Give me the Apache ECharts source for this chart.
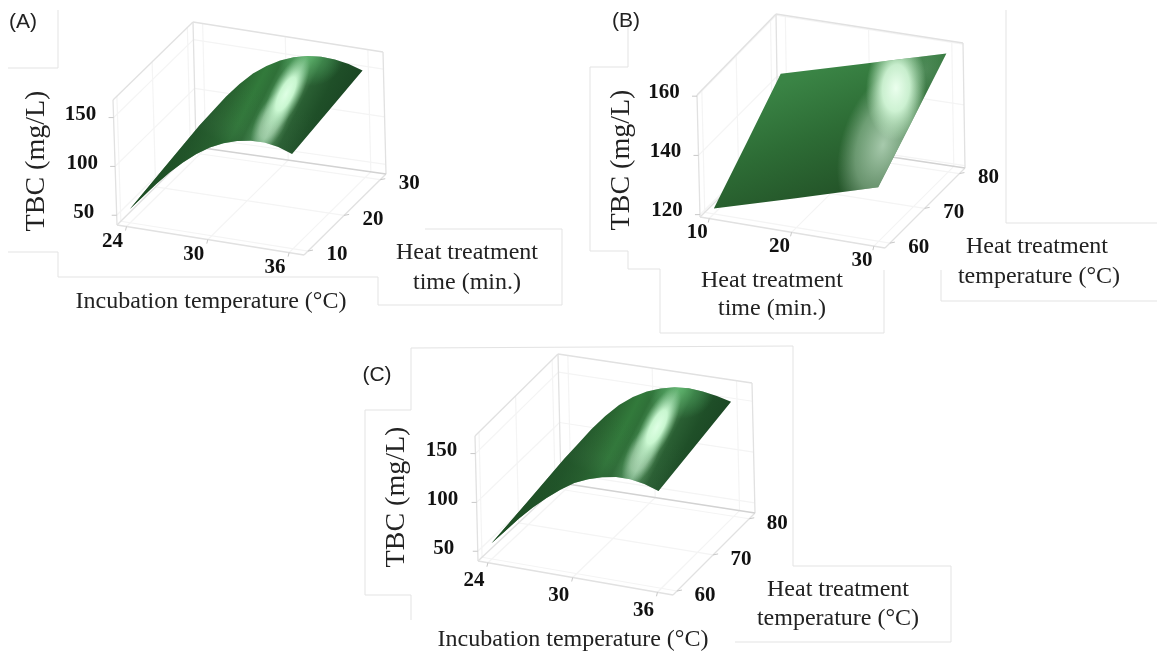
<!DOCTYPE html>
<html><head><meta charset="utf-8">
<style>html,body{margin:0;padding:0;background:#fff}#c{width:1157px;height:657px}</style>
<script src="https://cdn.jsdelivr.net/npm/echarts@6/dist/echarts.min.js"></script>
</head><body><div id="c"></div>
<script>
// ---- data ----
const incubationTemps = [24,25,26,27,28,29,30,31,32,33,34,35,36];
const heatTimes = [10,20,30];
const heatTemps = [60,70,80];
const tbcA_t10 = [54,69,84,98,110.5,121.5,130.5,137,141.5,144,144.5,142,137];
const tbcA_t20 = [61.5,77.5,93.5,108,121,131,140,146,150,152,152,149,144.5];
const tbcA_t30 = [69,86,103,118,131,141,149,154.5,158,159.5,159,156.5,152];
const tbcC_h60 = [56,71,86,99.5,111.5,122,131,137,141,143.5,143.5,141,136];
const tbcC_h70 = [63.5,79.5,95.5,110,122,132.5,141,146,150,152,151,149,144.5];
const tbcC_h80 = [71,88,105,120,133,143,150.5,155.5,159,160,159,156.5,153];
const tbcB_h60 = [121,129,137.2];
const tbcB_h70 = [132,140,147.7];
const tbcB_h80 = [143.1,150.6,158.2];
const ticksIncubation = [24,30,36];
const ticksTime = [10,20,30];
const ticksHeatTemp = [60,70,80];
const ticksTbcAC = [50,100,150];
const ticksTbcB = [120,140,160];

// ---- panel geometry (style/layout) ----
const panels = [
 {floor:[[117,225],[304,255],[386,174],[196,147]], top:[[113,100],[303,130],[383,52],[193,22]],
  xr:[23.3,37.1], yr:[8.9,31.6], zr:[40,168], xt:ticksIncubation, yt:ticksTime, zt:ticksTbcAC,
  xo:[-14,15], yo:[29,4], zo:[-33,-3],
  xs:incubationTemps, ys:heatTimes, rows:[tbcA_t10,tbcA_t20,tbcA_t30]},
 {floor:[[700,217],[885,248],[965,168],[778,140]], top:[[697,95],[884,124],[963,43],[776,14]],
  xr:[8.88,31.35], yr:[58.6,81.6], zr:[119.2,160.4], xt:ticksTime, yt:ticksHeatTemp, zt:ticksTbcB,
  xo:[-12,14], yo:[29,4], zo:[-33,-4],
  xs:heatTimes, ys:heatTemps, rows:[tbcB_h60,tbcB_h70,tbcB_h80]},
 {floor:[[478,561],[673,595],[755,513],[561,483]], top:[[475,436],[669,465],[752,383],[558,354]],
  xr:[23.3,37.1], yr:[58.9,81.6], zr:[40,168], xt:ticksIncubation, yt:ticksHeatTemp, zt:ticksTbcAC,
  xo:[-14,18], yo:[28,5], zo:[-34,-3],
  xs:incubationTemps, ys:heatTemps, rows:[tbcC_h60,tbcC_h70,tbcC_h80]}
];
const lerp=(a,b,t)=>[a[0]+(b[0]-a[0])*t,a[1]+(b[1]-a[1])*t];
const frac=(r,v)=>(v-r[0])/(r[1]-r[0]);
function bil(q,u,v){return lerp(lerp(q[0],q[1],u),lerp(q[3],q[2],u),v);}
function proj(p,x,y,z){const u=frac(p.xr,x),v=frac(p.yr,y),w=frac(p.zr,z);
  return lerp(bil(p.floor,u,v),bil(p.top,u,v),w);}

const FRAME='#e1e1e1', BACK='#d2d2d2', GRID='#f4f4f4', TICK='#c8c8c8';
const lineEl=(api,a,b,c,w)=>{const A=api.coord(a),B=api.coord(b);
  return {type:'line',shape:{x1:A[0],y1:A[1],x2:B[0],y2:B[1]},style:{stroke:c,lineWidth:w||1.2,fill:null}};};
const uvFloor=(p,u,v)=>bil(p.floor,u,v), uvTop=(p,u,v)=>bil(p.top,u,v);

function frameItem(p){return (params,api)=>{
  const ch=[];
  const F=p.floor,T=p.top;
  p.xt.forEach(t=>{const u=frac(p.xr,t);
    ch.push(lineEl(api,uvFloor(p,u,0),uvFloor(p,u,1),GRID));
    ch.push(lineEl(api,uvFloor(p,u,1),uvTop(p,u,1),GRID));});
  p.yt.forEach(t=>{const v=frac(p.yr,t);
    ch.push(lineEl(api,uvFloor(p,0,v),uvFloor(p,1,v),GRID));
    ch.push(lineEl(api,uvFloor(p,0,v),uvTop(p,0,v),GRID));});
  p.zt.forEach(t=>{const w=frac(p.zr,t);
    const a=lerp(F[0],T[0],w),b=lerp(F[3],T[3],w),c=lerp(F[2],T[2],w);
    ch.push(lineEl(api,a,b,GRID));ch.push(lineEl(api,b,c,GRID));});
  [[F[0],F[1]],[F[1],F[2]],[F[3],F[0]],[F[0],T[0]],[T[0],T[3]],[T[3],F[3]],[T[3],T[2]],[T[2],F[2]]]
    .forEach(s=>ch.push(lineEl(api,s[0],s[1],FRAME,1.3)));
  ch.push(lineEl(api,F[2],F[3],BACK,1.4));
  const tick=(base,dx,dy)=>ch.push(lineEl(api,base,[base[0]+dx,base[1]+dy],TICK,1));
  const lab=(txt,base,o)=>{const P=api.coord([base[0]+o[0],base[1]+o[1]]);
    ch.push({type:'text',style:{text:String(txt),x:P[0],y:P[1],align:'center',verticalAlign:'middle',
      font:'bold 21px "Liberation Serif"',fill:'#111'}});};
  p.xt.forEach(t=>{const b=uvFloor(p,frac(p.xr,t),0);tick(b,-1,4);lab(t,b,p.xo);});
  p.yt.forEach(t=>{const b=uvFloor(p,1,frac(p.yr,t));tick(b,5,-1);lab(t,b,p.yo);});
  p.zt.forEach(t=>{const w=frac(p.zr,t),b=lerp(F[0],T[0],w);tick(b,-5,0);lab(t,b,p.zo);});
  return {type:'group',children:ch};
};}

function outline(p){
  const pts=[],n=p.xs.length,m=p.ys.length;
  for(let i=0;i<n;i++)pts.push(proj(p,p.xs[i],p.ys[0],p.rows[0][i]));
  for(let j=1;j<m;j++)pts.push(proj(p,p.xs[n-1],p.ys[j],p.rows[j][n-1]));
  for(let i=n-2;i>=0;i--)pts.push(proj(p,p.xs[i],p.ys[m-1],p.rows[m-1][i]));
  for(let j=m-2;j>0;j--)pts.push(proj(p,p.xs[0],p.ys[j],p.rows[j][0]));
  return pts;
}
const LG=echarts.graphic.LinearGradient, RG=echarts.graphic.RadialGradient;
const st=a=>a.map(s=>({offset:s[0],color:s[1]}));
const ridgeBase=[[0,'#1d4f24'],[.14,'#215629'],[.26,'#2a6631'],[.37,'#327a3b'],[.44,'#2f7038'],[.5,'#478a52'],[.58,'#86c092'],[.64,'#47804f'],[.69,'#2a5f33'],[.81,'#1f4f28'],[1,'#1a4423']];
const ridgeFront=[[0,'rgba(28,75,35,.75)'],[.6,'rgba(35,85,44,.45)'],[.74,'rgba(60,105,70,.12)'],[1,'rgba(60,105,70,0)']];
const ridgeTop=[[0,'rgba(85,175,100,.8)'],[.55,'rgba(75,160,92,.45)'],[1,'rgba(70,160,90,0)']];
const ridgeGlow=[[0,'rgba(222,255,228,1)'],[.42,'rgba(205,250,212,.95)'],[.72,'rgba(170,225,180,.5)'],[1,'rgba(150,210,160,0)']];
const ridgeLow=[[0,'rgba(190,225,195,.85)'],[.55,'rgba(178,218,184,.6)'],[1,'rgba(160,205,170,0)']];
function ridgeFills(dx,dy){
  return [{f:new LG(134+dx,208+dy,134+dx+.889*146,208+dy+.457*146,st(ridgeBase),true)},
          // along the stripes, from the tip up to the middle of the highlight
          {f:new LG(134+dx,208+dy,134+dx+.457*165,208+dy-.889*165,st(ridgeFront),true)},
          {e:[310+dx,56+dy,34,30,0],f:new RG(0,0,1,st(ridgeTop),true)},
          {e:[271+dx,121+dy,15,34,-.472],f:new RG(0,0,1,st(ridgeLow),true)},
          {e:[286+dx,94+dy,15,44,-.472],f:new RG(0,0,1,st(ridgeGlow),true)}];
}
const planeFills=[
  {f:new LG(853,187,810,73,st([[0,'#245529'],[.5,'#2d6c35'],[1,'#3a8445']]),true)},
  {e:[883,145,42,76,-.3],f:new RG(0,0,1,st([[0,'rgba(195,225,200,.82)'],[.6,'rgba(180,215,185,.48)'],[1,'rgba(170,205,175,0)']]),true)},
  {e:[925,70,30,40,0],f:new RG(0,0,1,st([[0,'rgba(130,175,140,.35)'],[1,'rgba(130,175,140,0)']]),true)},
  {e:[896,88,30,52,-.06],f:new RG(0,0,1,st([[0,'rgba(235,255,238,1)'],[.45,'rgba(215,250,220,.9)'],[1,'rgba(200,245,205,0)']]),true)}
];
const fills=[ridgeFills(0,0),planeFills,ridgeFills(371,333)];
function surfItem(i){const p=panels[i];return (params,api)=>{
  const pts=outline(p).map(q=>api.coord(q));
  return {type:'group',children:fills[i].map(o=>{
    if(!o.e) return {type:'polygon',shape:{points:pts},style:{fill:o.f,stroke:null}};
    // an elliptical light: the unit-circle gradient is stretched by the element's transform
    const [cx,cy,rx,ry,r]=o.e,c=Math.cos(r),s=Math.sin(r);
    const local=pts.map(q=>{const dx=q[0]-cx,dy=q[1]-cy;return [(c*dx-s*dy)/rx,(s*dx+c*dy)/ry];});
    return {type:'polygon',x:cx,y:cy,rotation:r,scaleX:rx,scaleY:ry,shape:{points:local},style:{fill:o.f,stroke:null}};
  })};
};}
const base={type:'custom',coordinateSystem:'cartesian2d',silent:true,animation:false,clip:false,data:[[0,0]]};
const series=[];
panels.forEach((p,i)=>{series.push(Object.assign({},base,{name:'frame'+i,renderItem:frameItem(p)}));
  series.push(Object.assign({},base,{name:'surface'+i,renderItem:surfItem(i),z:3}));});

// ---- titles ----
const T=(t,x,y,size,opt)=>Object.assign({type:'text',x:x,y:y,z:10,silent:true,rotation:(opt&&opt.rot)||0,
  style:{text:t,align:'center',verticalAlign:'middle',font:((opt&&opt.w)||'')+' '+size+'px '+((opt&&opt.f)||'"Liberation Serif"'),fill:(opt&&opt.c)||'#222'}});
const ROT={rot:Math.PI/2,c:'#222'};
const AXS=24, TBC=28, LAB={f:'"Liberation Sans Narrow","Liberation Sans"',c:'#222'};
const patch=(pts)=>({type:'polyline',z:0,silent:true,shape:{points:pts},style:{stroke:'#e3e3e3',lineWidth:1,fill:null}});
const graphic=[
 T('(A)',23,22,21,LAB),T('(B)',626,21,21,LAB),T('(C)',377,375,21,LAB),
 T('TBC (mg/L)',37,161,TBC,ROT),T('TBC (mg/L)',622,160,TBC,ROT),T('TBC (mg/L)',397,497,TBC,ROT),
 T('Incubation temperature (°C)',211,302,AXS),T('Heat treatment',467,253,AXS),T('time (min.)',467,283,AXS),
 T('Heat treatment',772,281,AXS),T('time (min.)',772,309,AXS),
 T('Heat treatment',1037,247,AXS),T('temperature (°C)',1039,277,AXS),
 T('Incubation temperature (°C)',573,640,AXS),T('Heat treatment',838,590,AXS),T('temperature (°C)',838,619,AXS),
 patch([[58,10],[58,68],[8,68]]),
 patch([[8,252],[58,252],[58,277],[378,277],[378,305],[562,305],[562,229],[425,229]]),
 patch([[628,22],[628,67],[590,67],[590,251],[628,251],[628,269],[660,269],[660,333],[884,333],[884,270]]),
 patch([[941,270],[941,301],[1157,301]]),
 patch([[1006,10],[1006,223],[1157,223]]),
 patch([[793,346],[411,348],[411,410],[365,410],[365,595],[411,595],[411,620]]),
 patch([[793,346],[793,566],[951,566],[951,642],[735,642]])
];
const chart=echarts.init(document.getElementById('c'),null,{renderer:'canvas'});
chart.setOption({animation:false,backgroundColor:'#fff',
  grid:{left:0,right:0,top:0,bottom:0},
  xAxis:{type:'value',min:0,max:1157,show:false},
  yAxis:{type:'value',min:0,max:657,inverse:true,show:false},
  graphic:{elements:graphic},series:series});
</script></body></html>
